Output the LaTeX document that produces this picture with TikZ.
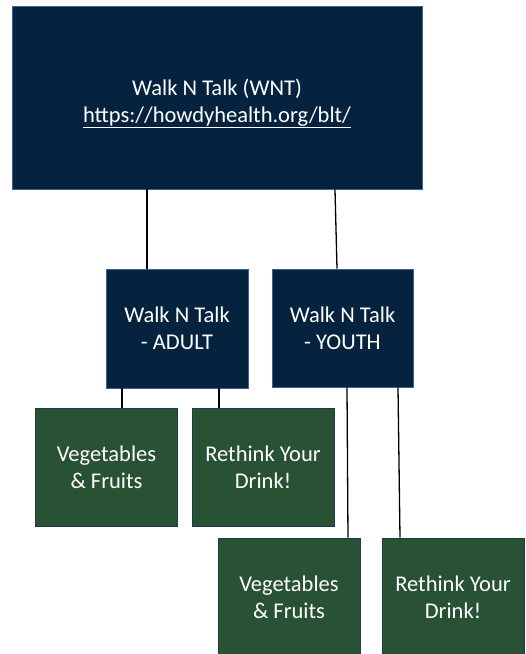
\documentclass[tikz,border=0pt]{standalone}
\usepackage{xcolor}
\usepackage{fontspec}
\setmainfont{Carlito}
\usepackage{tikz}
\usetikzlibrary{positioning}

\definecolor{wntnavy}{RGB}{5,35,62}
\definecolor{wntedge}{RGB}{62,96,150}
\definecolor{wntgreen}{RGB}{41,82,52}
\definecolor{wntgedge}{RGB}{30,58,80}

\begin{document}
\begin{tikzpicture}[
	x=1pt, y=-1pt,
	line width=1.2pt,
	font=\fontsize{22.5}{27}\selectfont
]
\tikzset{
    navybox/.style = {rectangle, draw=wntedge, line width=0.9pt, fill=wntnavy, text=white, align=center, inner sep=0pt},
    greenbox/.style = {rectangle, draw=wntgedge, line width=0.9pt, fill=wntgreen, text=white, align=center, inner sep=0pt, minimum width=142pt, minimum height=118pt},
    link/.style = {draw=black, line width=1.3pt},
}
\useasboundingbox (0,0) rectangle (526,654);
\fill[white] (0,0) rectangle (526,654);
% top level
\node[navybox, minimum width=410pt, minimum height=183pt] (wnt) at (217,97.5) {\rule{0pt}{28pt}Walk N Talk (WNT)\\\underline{https://howdyhealth.org/blt/}};
% second level
\node[navybox, minimum width=142pt, minimum height=119pt] (adult) at (177,328.5) {Walk N Talk\\- ADULT};
\node[navybox, minimum width=141pt, minimum height=118pt] (youth) at (342.5,328) {Walk N Talk\\- YOUTH};
% third level
\node[greenbox] (adultveg) at (106.5,467) {Vegetables\\\& Fruits};
\node[greenbox] (adultdrink) at (263,467) {Rethink Your\\Drink!};
\node[greenbox] (youthveg) at (289,597) {Vegetables\\\& Fruits};
\node[greenbox] (youthdrink) at (453,597) {Rethink Your\\Drink!};
% connectors
\draw[link] ([xshift=-70pt]wnt.south) -- ([xshift=-30pt]adult.north);
\draw[link] ([xshift=118pt]wnt.south) -- ([xshift=-5.5pt]youth.north);
\draw[link] ([xshift=-55pt]adult.south) -- ([xshift=15.5pt]adultveg.north);
\draw[link] ([xshift=42pt]adult.south) -- ([xshift=-44pt]adultdrink.north);
\draw[link] ([xshift=4.5pt]youth.south) -- ([xshift=59pt]youthveg.north);
\draw[link] ([xshift=55.5pt]youth.south) -- ([xshift=-53pt]youthdrink.north);
\end{tikzpicture}
\end{document}
